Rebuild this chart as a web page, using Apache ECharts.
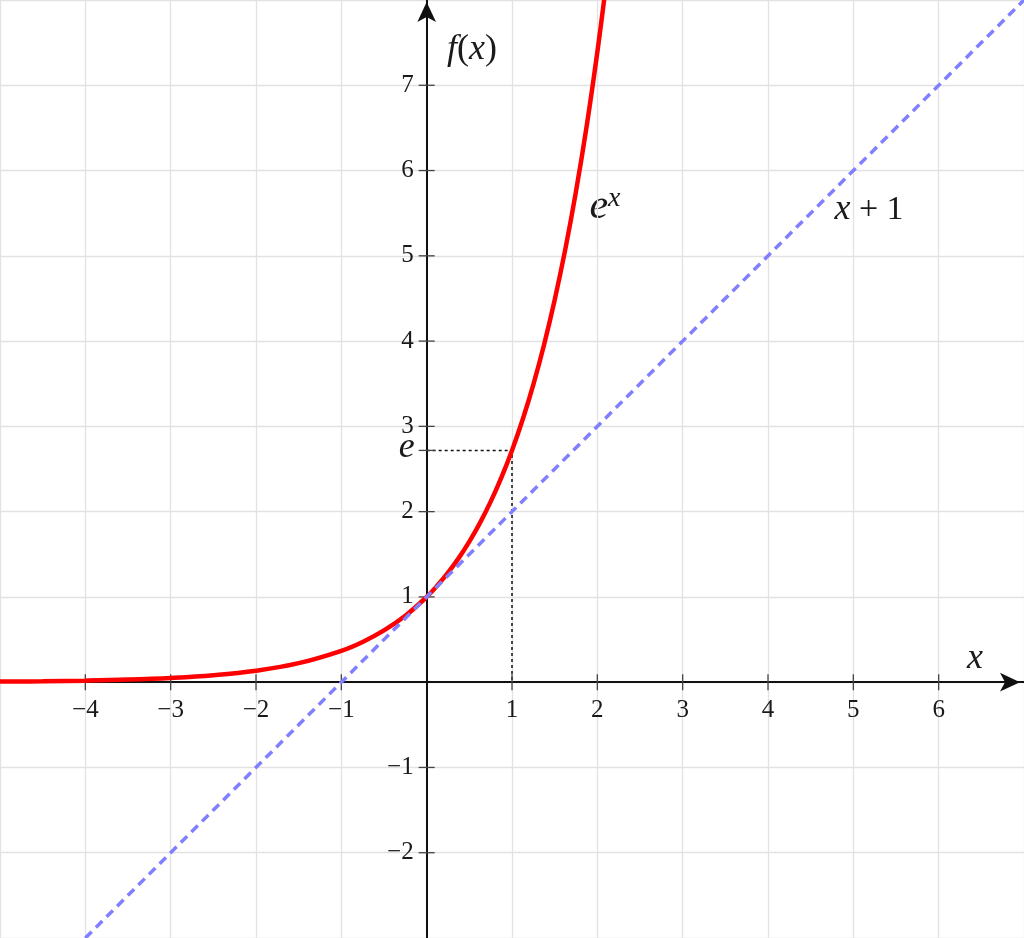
<!DOCTYPE html>
<html><head><meta charset="utf-8">
<script src="https://cdn.jsdelivr.net/npm/echarts@6/dist/echarts.min.js"></script>
<style>html,body{margin:0;padding:0;background:#fff}#c{width:1024px;height:938px}</style>
</head><body><div id="c"></div>
<script>
// e^x curve
const expX = [-5,-4.5,-4,-3.5,-3,-2.5,-2,-1.5,-1,-0.75,-0.5,-0.25,0,0.125,0.25,0.375,0.5,0.625,0.75,0.875,1,1.125,1.25,1.375,1.5,1.625,1.75,1.875,2,2.1];
const expY = [0.007,0.011,0.018,0.030,0.050,0.082,0.135,0.223,0.368,0.472,0.607,0.779,1,1.133,1.284,1.455,1.649,1.868,2.117,2.399,2.718,3.080,3.490,3.955,4.482,5.078,5.755,6.521,7.389,8.166];
// x + 1 line
const lineX = [-4, 7];
const lineY = [-3, 8];
// ticks
const xTickValues = [-4,-3,-2,-1,1,2,3,4,5,6];
const yTickValues = [-2,-1,1,2,3,4,5,6,7];
const eValue = 2.718;
// dotted guide to (1, e)
const guideX = [0, 1, 1];
const guideY = [2.718, 2.718, 0];

const FONT = 'Liberation Serif';
const INK = '#1a1a1a';
const fmt = v => String(v).replace('-', '\u2212');

const chart = echarts.init(document.getElementById('c'), null, {renderer: 'canvas'});

const tickSeries = (vals, isX) => ({
  type: 'custom',
  z: 3,
  silent: true,
  data: vals.map(v => isX ? [v, 0] : [0, v]),
  renderItem: (params, api) => {
    const p = api.coord([api.value(0), api.value(1)]);
    const shape = isX ? {x1: p[0], y1: p[1] - 8, x2: p[0], y2: p[1] + 8}
                      : {x1: p[0] - 8, y1: p[1], x2: p[0] + 8, y2: p[1]};
    return {type: 'line', shape, style: {stroke: '#444', lineWidth: 1.3}};
  }
});

const labelSeries = (vals, isX) => ({
  type: 'custom',
  z: 3,
  silent: true,
  clip: false,
  data: vals.map(v => isX ? [v, 0] : [0, v]),
  renderItem: (params, api) => {
    const v = isX ? api.value(0) : api.value(1);
    const p = api.coord([api.value(0), api.value(1)]);
    return isX
      ? {type: 'text', x: p[0], y: p[1] + 16, style: {text: fmt(v), fontSize: 25, fontFamily: FONT, fill: INK, align: 'center', verticalAlign: 'top'}}
      : {type: 'text', x: p[0] - 13, y: p[1], style: {text: fmt(v), fontSize: 25, fontFamily: FONT, fill: INK, align: 'right', verticalAlign: 'middle'}};
  }
});

chart.setOption({
  animation: false,
  backgroundColor: '#fff',
  grid: {left: 0, right: 0, top: 0, bottom: 0, containLabel: false, outerBoundsMode: 'none'},
  xAxis: {
    type: 'value', min: -5, max: 7, interval: 1,
    axisLine: {onZero: true, symbol: ['none', 'arrow'], symbolSize: [14, 20], symbolOffset: [0, -4],
      lineStyle: {color: '#111', width: 2}},
    axisTick: {show: false},
    axisLabel: {show: false},
    splitLine: {show: true, lineStyle: {color: '#e2e2e2', width: 1.3}}
  },
  yAxis: {
    type: 'value', min: -3, max: 8, interval: 1,
    axisLine: {onZero: true, symbol: ['none', 'arrow'], symbolSize: [14, 20], symbolOffset: [0, -2],
      lineStyle: {color: '#111', width: 2}},
    axisTick: {show: false},
    axisLabel: {show: false},
    splitLine: {show: true, lineStyle: {color: '#e2e2e2', width: 1.3}}
  },
  series: [
    {
      type: 'line', z: 2, silent: true, showSymbol: false,
      data: guideX.map((x, i) => [x, guideY[i]]),
      lineStyle: {color: '#111', width: 1.5, type: [3, 3]}
    },
    {
      type: 'line', z: 4, silent: true, showSymbol: false, smooth: 0.4,
      data: expX.map((x, i) => [x, expY[i]]),
      lineStyle: {color: '#ff0000', width: 4.5}
    },
    {
      type: 'line', z: 5, silent: true, showSymbol: false,
      data: lineX.map((x, i) => [x, lineY[i]]),
      lineStyle: {color: '#8080ff', width: 3.5, type: [9, 6]}
    },
    tickSeries(xTickValues, true),
    tickSeries(yTickValues.concat([eValue]), false),
    labelSeries(xTickValues, true),
    labelSeries(yTickValues, false),
    {
      type: 'custom', z: 3, silent: true,
      data: [[0, eValue]],
      renderItem: (params, api) => {
        const p = api.coord([api.value(0), api.value(1)]);
        return {type: 'text', x: p[0] - 12, y: p[1] - 3,
          style: {text: 'e', fontSize: 36, fontStyle: 'italic', fontFamily: FONT, fill: INK,
            align: 'right', verticalAlign: 'middle'}};
      }
    }
  ],
  graphic: [
    {type: 'text', x: 472, y: 50, style: {
      text: '{i|f}{n|(}{i|x}{n|)}', align: 'center', verticalAlign: 'middle',
      rich: {i: {fontSize: 36, fontStyle: 'italic', fontFamily: FONT, fill: INK},
             n: {fontSize: 36, fontFamily: FONT, fill: INK}}}},
    {type: 'text', x: 975, y: 659, style: {
      text: 'x', fontSize: 36, fontStyle: 'italic', fontFamily: FONT, fill: INK,
      align: 'center', verticalAlign: 'middle'}},
    {type: 'text', x: 605, y: 207, style: {
      text: '{e|e}{s|x}', align: 'center', verticalAlign: 'middle',
      rich: {e: {fontSize: 42, fontStyle: 'italic', fontFamily: FONT, fill: INK},
             s: {fontSize: 28, fontStyle: 'italic', fontFamily: FONT, fill: INK, verticalAlign: 'top', padding: [0,0,16,0]}}}},
    {type: 'text', x: 869, y: 210, style: {
      text: '{i|x}{n| + 1}', align: 'center', verticalAlign: 'middle',
      rich: {i: {fontSize: 36, fontStyle: 'italic', fontFamily: FONT, fill: INK},
             n: {fontSize: 34, fontFamily: FONT, fill: INK}}}}
  ]
});
</script>
</body></html>
